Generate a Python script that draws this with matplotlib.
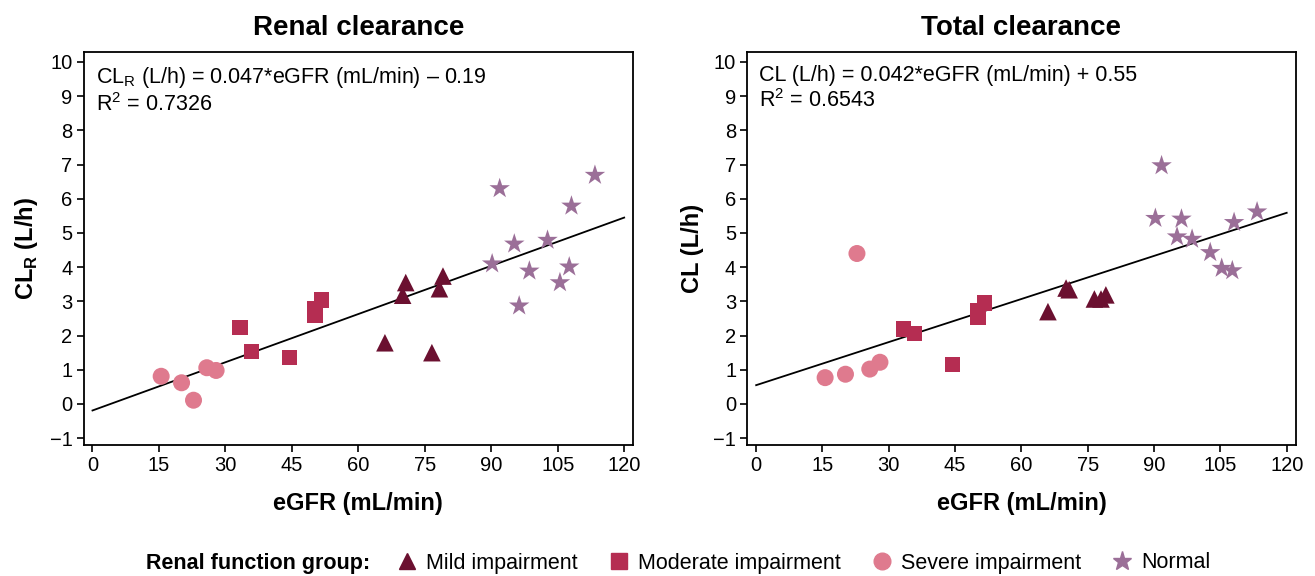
import matplotlib
matplotlib.use("Agg")
import matplotlib.pyplot as plt
from matplotlib.lines import Line2D

plt.rcParams['font.family'] = ['Liberation Sans', 'DejaVu Sans']
plt.rcParams['mathtext.fontset'] = 'custom'
plt.rcParams['mathtext.rm'] = 'Liberation Sans'
plt.rcParams['mathtext.bf'] = 'Liberation Sans:bold'

# ---- data ----
groups = ["Mild impairment", "Moderate impairment", "Severe impairment", "Normal"]

# Renal clearance panel
mild_egfr_r = [66.0, 70.0, 70.7, 76.6, 78.3, 79.1]
mild_clr = [1.79, 3.18, 3.55, 1.50, 3.37, 3.74]
mod_egfr_r = [33.3, 35.8, 44.4, 50.2, 50.2, 51.6]
mod_clr = [2.23, 1.53, 1.35, 2.58, 2.78, 3.04]
sev_egfr_r = [15.5, 20.1, 22.8, 25.8, 27.9]
sev_clr = [0.81, 0.62, 0.11, 1.06, 0.98]
norm_egfr_r = [90.2, 91.9, 95.2, 96.3, 98.6, 102.7, 105.5, 107.6, 108.1, 113.4]
norm_clr = [4.10, 6.30, 4.68, 2.87, 3.89, 4.79, 3.55, 4.01, 5.79, 6.69]

# Total clearance panel
mild_egfr_t = [66.0, 70.1, 70.8, 76.5, 78.0, 79.1]
mild_cl = [2.70, 3.39, 3.34, 3.07, 3.07, 3.19]
mod_egfr_t = [33.3, 35.9, 44.4, 50.2, 50.2, 51.6]
mod_cl = [2.19, 2.07, 1.16, 2.53, 2.72, 2.95]
sev_egfr_t = [15.6, 20.2, 22.8, 25.7, 28.0]
sev_cl = [0.77, 0.87, 4.40, 1.02, 1.22]
norm_egfr_t = [90.3, 91.7, 95.2, 96.2, 98.6, 102.7, 105.3, 107.7, 108.1, 113.3]
norm_cl = [5.43, 6.97, 4.89, 5.41, 4.82, 4.43, 3.97, 3.90, 5.31, 5.62]

# regression fits
slope_r, icpt_r = 0.047, -0.19
slope_t, icpt_t = 0.042, 0.55
fit_x = [0, 120]

xticks = [0, 15, 30, 45, 60, 75, 90, 105, 120]
yticks = list(range(-1, 11))

colors = {"Mild impairment": "#6b1030", "Moderate impairment": "#b52d52",
          "Severe impairment": "#df7a8e", "Normal": "#9b6f98"}
markers = {"Mild impairment": "^", "Moderate impairment": "s",
           "Severe impairment": "o", "Normal": "*"}
sizes = {"Mild impairment": 160, "Moderate impairment": 120,
         "Severe impairment": 150, "Normal": 240}

fig = plt.figure(figsize=(13.15, 5.76), dpi=100)
ax1 = fig.add_axes([0.0636, 0.2274, 0.4178, 0.6828])
ax2 = fig.add_axes([0.5683, 0.2274, 0.4169, 0.6828])

panels = [
    (ax1, "Renal clearance",
     [(mild_egfr_r, mild_clr), (mod_egfr_r, mod_clr), (sev_egfr_r, sev_clr), (norm_egfr_r, norm_clr)],
     slope_r, icpt_r, r'CL$_\mathbf{R}$ (L/h)',
     "CL$_{\\mathrm{R}}$ (L/h) = 0.047*eGFR (mL/min) \u2013 0.19\nR$^{2}$ = 0.7326"),
    (ax2, "Total clearance",
     [(mild_egfr_t, mild_cl), (mod_egfr_t, mod_cl), (sev_egfr_t, sev_cl), (norm_egfr_t, norm_cl)],
     slope_t, icpt_t, "CL (L/h)",
     "CL (L/h) = 0.042*eGFR (mL/min) + 0.55\nR$^{2}$ = 0.6543"),
]

for ax, title, data, slope, icpt, ylabel, ann in panels:
    ax.plot(fit_x, [slope * v + icpt for v in fit_x], color="black", lw=1.3, zorder=2)
    for g, (xs, ys) in zip(groups, data):
        ax.scatter(xs, ys, marker=markers[g], s=sizes[g], color=colors[g],
                   edgecolors="none", zorder=3)
    ax.set_xlim(-2, 122)
    ax.set_ylim(-1.2, 10.3)
    ax.set_xticks(xticks)
    ax.set_yticks(yticks)
    ax.tick_params(direction="out", length=5, width=1.2, labelsize=14.5, pad=3)
    for sp in ax.spines.values():
        sp.set_linewidth(1.3)
    ax.set_title(title, fontsize=20, fontweight="bold", pad=12)
    ax.set_xlabel("eGFR (mL/min)", fontsize=17, fontweight="bold", labelpad=12)
    ax.set_ylabel(ylabel, fontsize=17, fontweight="bold", labelpad=7)
    ax.text(0.022, 0.965, ann, transform=ax.transAxes, ha="left", va="top",
            fontsize=15.5, linespacing=1.12)

fig.text(146 / 1315, 1 - 563 / 576, "Renal function group:", fontsize=15.5,
         fontweight="bold", ha="left", va="center")
handles = [Line2D([], [], linestyle="none", marker=markers[g], color=colors[g],
                  markersize={"Mild impairment": 11, "Moderate impairment": 11,
                              "Severe impairment": 12, "Normal": 14}[g])
           for g in groups]
fig.legend(handles, groups, loc="center left", bbox_to_anchor=(394 / 1315, 1 - 563 / 576),
           ncol=4, frameon=False, fontsize=15.5, handletextpad=0.3, columnspacing=1.3,
           handlelength=1.2, borderaxespad=0, borderpad=0)

fig.savefig("out.png", dpi=100)
